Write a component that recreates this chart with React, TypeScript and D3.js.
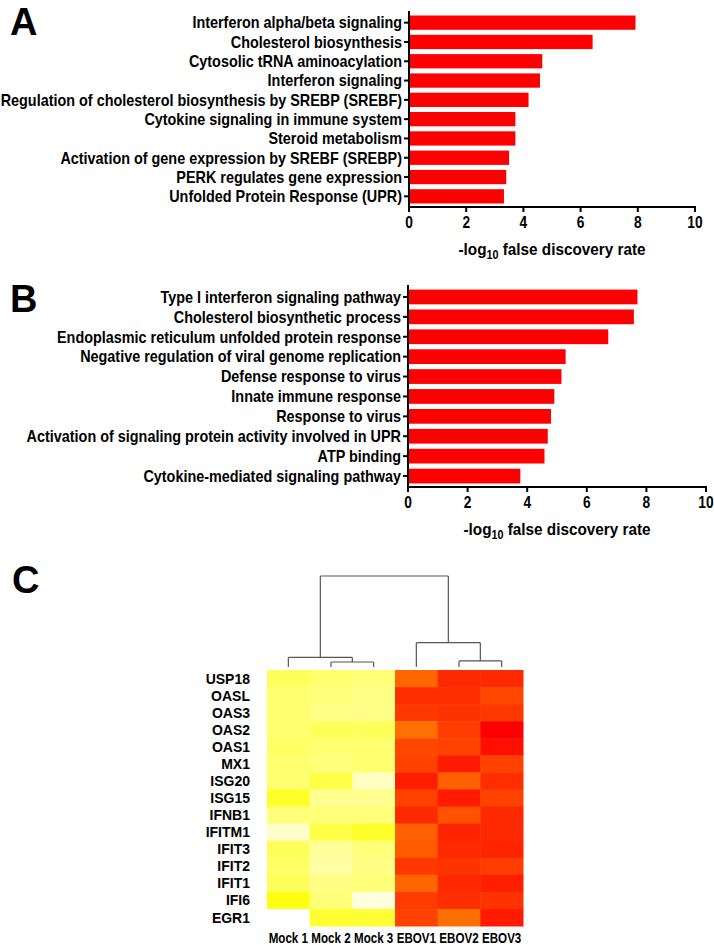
import React from "react";
import * as d3 from "d3";

const termsA = [
  "Interferon alpha/beta signaling",
  "Cholesterol biosynthesis",
  "Cytosolic tRNA aminoacylation",
  "Interferon signaling",
  "Regulation of cholesterol biosynthesis by SREBP (SREBF)",
  "Cytokine signaling in immune system",
  "Steroid metabolism",
  "Activation of gene expression by SREBF (SREBP)",
  "PERK regulates gene expression",
  "Unfolded Protein Response (UPR)",
];
const valuesA = [7.92, 6.42, 4.66, 4.58, 4.18, 3.72, 3.72, 3.5, 3.4, 3.32];

const termsB = [
  "Type I interferon signaling pathway",
  "Cholesterol biosynthetic process",
  "Endoplasmic reticulum unfolded protein response",
  "Negative regulation of viral genome replication",
  "Defense response to virus",
  "Innate immune response",
  "Response to virus",
  "Activation of signaling protein activity involved in UPR",
  "ATP binding",
  "Cytokine-mediated signaling pathway",
];
const valuesB = [7.7, 7.58, 6.72, 5.29, 5.15, 4.91, 4.8, 4.69, 4.58, 3.77];

const xTicks = [0, 2, 4, 6, 8, 10];

const genes = [
  "USP18", "OASL", "OAS3", "OAS2", "OAS1", "MX1", "ISG20", "ISG15",
  "IFNB1", "IFITM1", "IFIT3", "IFIT2", "IFIT1", "IFI6", "EGR1",
];
const samples = ["Mock 1", "Mock 2", "Mock 3", "EBOV1", "EBOV2", "EBOV3"];

// relative expression (0 = pale, 0.5 = yellow, 1 = red)
const heatValues = [
  [0.32, 0.28, 0.26, 0.8, 0.92, 0.92],
  [0.28, 0.26, 0.24, 0.91, 0.91, 0.86],
  [0.28, 0.24, 0.24, 0.89, 0.9, 0.89],
  [0.28, 0.32, 0.32, 0.78, 0.88, 1.0],
  [0.3, 0.28, 0.28, 0.86, 0.87, 0.97],
  [0.28, 0.26, 0.28, 0.87, 0.95, 0.87],
  [0.28, 0.36, 0.12, 0.94, 0.81, 0.91],
  [0.42, 0.22, 0.22, 0.87, 0.95, 0.87],
  [0.26, 0.26, 0.26, 0.92, 0.84, 0.92],
  [0.1, 0.36, 0.42, 0.81, 0.93, 0.92],
  [0.32, 0.2, 0.26, 0.82, 0.92, 0.93],
  [0.3, 0.18, 0.24, 0.89, 0.9, 0.88],
  [0.32, 0.24, 0.26, 0.8, 0.92, 0.94],
  [0.47, 0.26, 0.06, 0.88, 0.91, 0.9],
  [0.0, 0.4, 0.4, 0.87, 0.78, 0.95],
];

// dendrogram over samples (leaf = sample index, h = merge height)
const dendroTree = {
  h: 10,
  children: [
    { h: 1.05, children: [{ leaf: 0 }, { h: 0.55, children: [{ leaf: 1 }, { leaf: 2 }] }] },
    { h: 2.67, children: [{ leaf: 3 }, { h: 0.67, children: [{ leaf: 4 }, { leaf: 5 }] }] },
  ],
};

const FONT = "'Liberation Sans', Arial, sans-serif";

function CText({ x, y, anchor = "start", size, sx = 0.9, children, dy = undefined }) {
  return (
    <text
      transform={`translate(${x},${y}) scale(${sx},1)`}
      dy={dy}
      textAnchor={anchor}
      fontFamily={FONT}
      fontWeight="bold"
      fontSize={size}
    >
      {children}
    </text>
  );
}

function BarPanel({ terms, values, letter, letterY, x0, x1, yTop, yBottom }) {
  const x = d3.scaleLinear().domain([0, 10]).range([x0, x1]);
  const y = d3.scaleBand().domain(terms).range([yTop, yBottom]).paddingInner(0.26).paddingOuter(0.13);
  const axisY = yBottom + 1;
  return (
    <g>
      <text x={10} y={letterY} fontFamily={FONT} fontWeight="bold" fontSize={38}>{letter}</text>
      {terms.map((t, i) => (
        <rect key={t} x={x(0)} y={y(t)} width={x(values[i]) - x(0)} height={y.bandwidth()} fill="#ff0000" />
      ))}
      <line x1={x0} x2={x0} y1={yTop - 2} y2={axisY} stroke="#000" strokeWidth={2} />
      <line x1={x0 - 1} x2={x1 + 1} y1={axisY} y2={axisY} stroke="#000" strokeWidth={2} />
      {terms.map((t) => {
        const cy = (y(t) as number) + y.bandwidth() / 2;
        return (
          <g key={"l" + t}>
            <line x1={x0 - 5} x2={x0} y1={cy} y2={cy} stroke="#000" strokeWidth={2} />
            <CText x={x0 - 7} y={cy} dy="0.36em" anchor="end" size={16} sx={0.9}>{t}</CText>
          </g>
        );
      })}
      {xTicks.map((v) => (
        <g key={"t" + v}>
          <line x1={x(v)} x2={x(v)} y1={axisY} y2={axisY + 5} stroke="#000" strokeWidth={2} />
          <CText x={x(v)} y={axisY + 21} anchor="middle" size={16} sx={0.86}>{String(v)}</CText>
        </g>
      ))}
      <CText x={(x0 + x1) / 2} y={axisY + 48} anchor="middle" size={17} sx={0.9}>
        -log<tspan fontSize={12} dy={4}>10</tspan><tspan dy={-4}> false discovery rate</tspan>
      </CText>
    </g>
  );
}

function Heatmap() {
  const hx0 = 267, hx1 = 523, hy0 = 670, hy1 = 926;
  const xb = d3.scaleBand().domain(samples).range([hx0, hx1]);
  const yb = d3.scaleBand().domain(genes).range([hy0, hy1]);
  const color = d3.scaleLinear<string>().domain([0, 0.5, 1]).range(["#ffffff", "#ffff00", "#ff0000"]).clamp(true);
  const leafBase = 667;
  const hy = d3.scaleLinear().domain([0, 10]).range([leafBase, 576]);
  const root = d3.hierarchy(dendroTree as any);
  const leafX = (i) => (xb(samples[i]) as number) + xb.bandwidth() / 2;
  root.eachAfter((n: any) => {
    if (n.data.leaf !== undefined) {
      n.px = leafX(n.data.leaf);
      n.ph = 0;
    } else {
      n.px = d3.mean(n.children, (c: any) => c.px);
      n.ph = n.data.h;
    }
  });
  const segs = [];
  root.each((n: any) => {
    if (!n.children) return;
    const [a, b] = n.children;
    segs.push([a.px, hy(n.ph), b.px, hy(n.ph)]);
    n.children.forEach((c: any) => segs.push([c.px, hy(n.ph), c.px, hy(c.ph)]));
  });
  return (
    <g>
      <text x={12} y={593} fontFamily={FONT} fontWeight="bold" fontSize={38}>C</text>
      {segs.map((s, i) => (
        <line key={i} x1={s[0]} y1={s[1]} x2={s[2]} y2={s[3]} stroke="#555" strokeWidth={1.2} />
      ))}
      {genes.map((g, r) =>
        samples.map((s, c) => (
          <rect key={g + s} x={xb(s)} y={yb(g)} width={xb.bandwidth() + 0.5} height={yb.bandwidth() + 0.5} fill={color(heatValues[r][c])} />
        ))
      )}
      {genes.map((g) => (
        <text key={"g" + g} x={250} y={(yb(g) as number) + yb.bandwidth() / 2} dy="0.36em" textAnchor="end" fontFamily={FONT} fontWeight="bold" fontSize={14}>{g}</text>
      ))}
      {samples.map((s) => (
        <CText key={"s" + s} x={(xb(s) as number) + xb.bandwidth() / 2} y={943} anchor="middle" size={14.5} sx={0.8}>{s}</CText>
      ))}
    </g>
  );
}

export default function App() {
  return (
    <div style={{ position: "absolute", left: 0, top: 0 }}>
      <svg width={714} height={945} style={{ display: "block", background: "#fff" }}>
        <BarPanel terms={termsA} values={valuesA} letter="A" letterY={35} x0={409} x1={695} yTop={13} yBottom={206} />
        <BarPanel terms={termsB} values={valuesB} letter="B" letterY={312} x0={408} x1={706} yTop={287} yBottom={486} />
        <Heatmap />
      </svg>
    </div>
  );
}
